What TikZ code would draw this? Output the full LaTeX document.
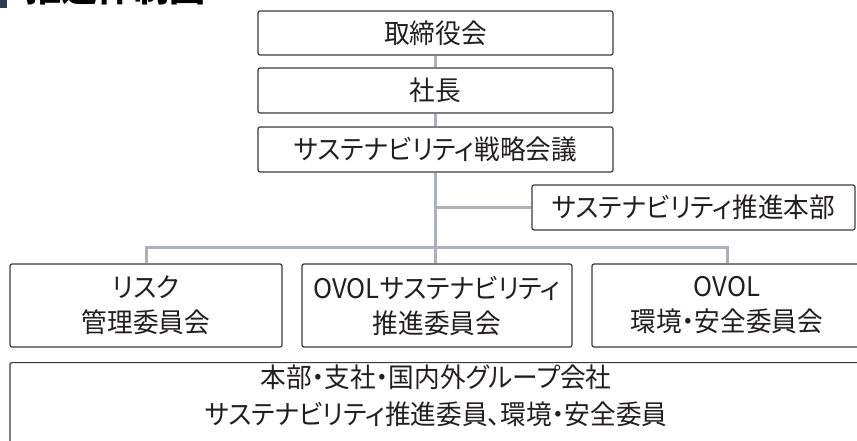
\documentclass[tikz,border=0pt]{standalone}
\usepackage{fontspec}
\newfontfamily\jpfont{Noto Sans CJK JP}[RawFeature=+palt, FakeStretch=0.95]
\usetikzlibrary{calc}
\definecolor{conncol}{HTML}{AAB1BA}
\definecolor{boxline}{HTML}{3A3A3A}
\definecolor{txtcol}{HTML}{231F20}
\definecolor{barcol}{HTML}{2E3D4F}
\newcommand{\twoline}[3]{\vbox{\baselineskip=#1\lineskiplimit=-100pt\lineskip=0pt\halign{\hfil##\hfil\cr#2\cr#3\cr}}}
\tikzset{
  box/.style={draw=boxline, line width=1.2pt, rounded corners=2pt, fill=white,
    text=txtcol, inner sep=0pt,
    font=\jpfont\fontsize{27}{35}\selectfont},
  lbl/.style={text=txtcol, inner sep=0pt,
    font=\jpfont\fontsize{27}{37}\selectfont},
  conn/.style={draw=conncol, line width=3pt}
}
\begin{document}
\begin{tikzpicture}[x=1pt,y=-1pt]
\useasboundingbox (0,0) rectangle (857,441);
\clip (0,0) rectangle (857,441);
% title (cut off at top)
\fill[barcol] (0,-10) rectangle (7,8);
\node[anchor=base west, inner sep=0pt, text=black, font=\jpfont\bfseries\fontsize{38}{40}\selectfont] (title) at (25,1.5) {推進体制図};
% boxes
\node[box, minimum width=355pt, minimum height=44pt] (bod) at (435.5,33) {取締役会};
\node[box, minimum width=355pt, minimum height=45pt] (pres) at (435.5,90.5) {社長};
\node[box, minimum width=355pt, minimum height=45pt] (strat) at (435.5,149.5) {サステナビリティ戦略会議};
\node[box, minimum width=323pt, minimum height=45pt] (hq) at (693.5,207.5) {サステナビリティ推進本部};
\node[box, minimum width=272pt, minimum height=83pt] (risk) at (146,305.5) {\twoline{35pt}{リスク}{管理委員会}};
\node[box, minimum width=270pt, minimum height=83pt] (ovs) at (437,305.5) {\twoline{35pt}{OVOLサステナビリティ}{推進委員会}};
\node[box, minimum width=270pt, minimum height=83pt] (env) at (727,305.5) {\twoline{35pt}{OVOL}{環境・安全委員会}};
\node[box, minimum width=852pt, minimum height=90pt, anchor=north] (grp) at (436,362) {};
\node[lbl] (grplabel) at (436,396) {\twoline{37pt}{本部・支社・国内外グループ会社}{サステナビリティ推進委員、環境・安全委員}};
% connectors
\coordinate (bus) at (0,247);
\draw[conn] (bod.south) -- (pres.north);
\draw[conn] (pres.south) -- (strat.north);
\draw[conn] (strat.south) -- (strat.south |- ovs.north);
\draw[conn] (strat.south |- hq.west) -- (hq.west);
\draw[conn] (risk.north) -- (risk.north |- bus) -| (env.north);
\end{tikzpicture}
\end{document}
